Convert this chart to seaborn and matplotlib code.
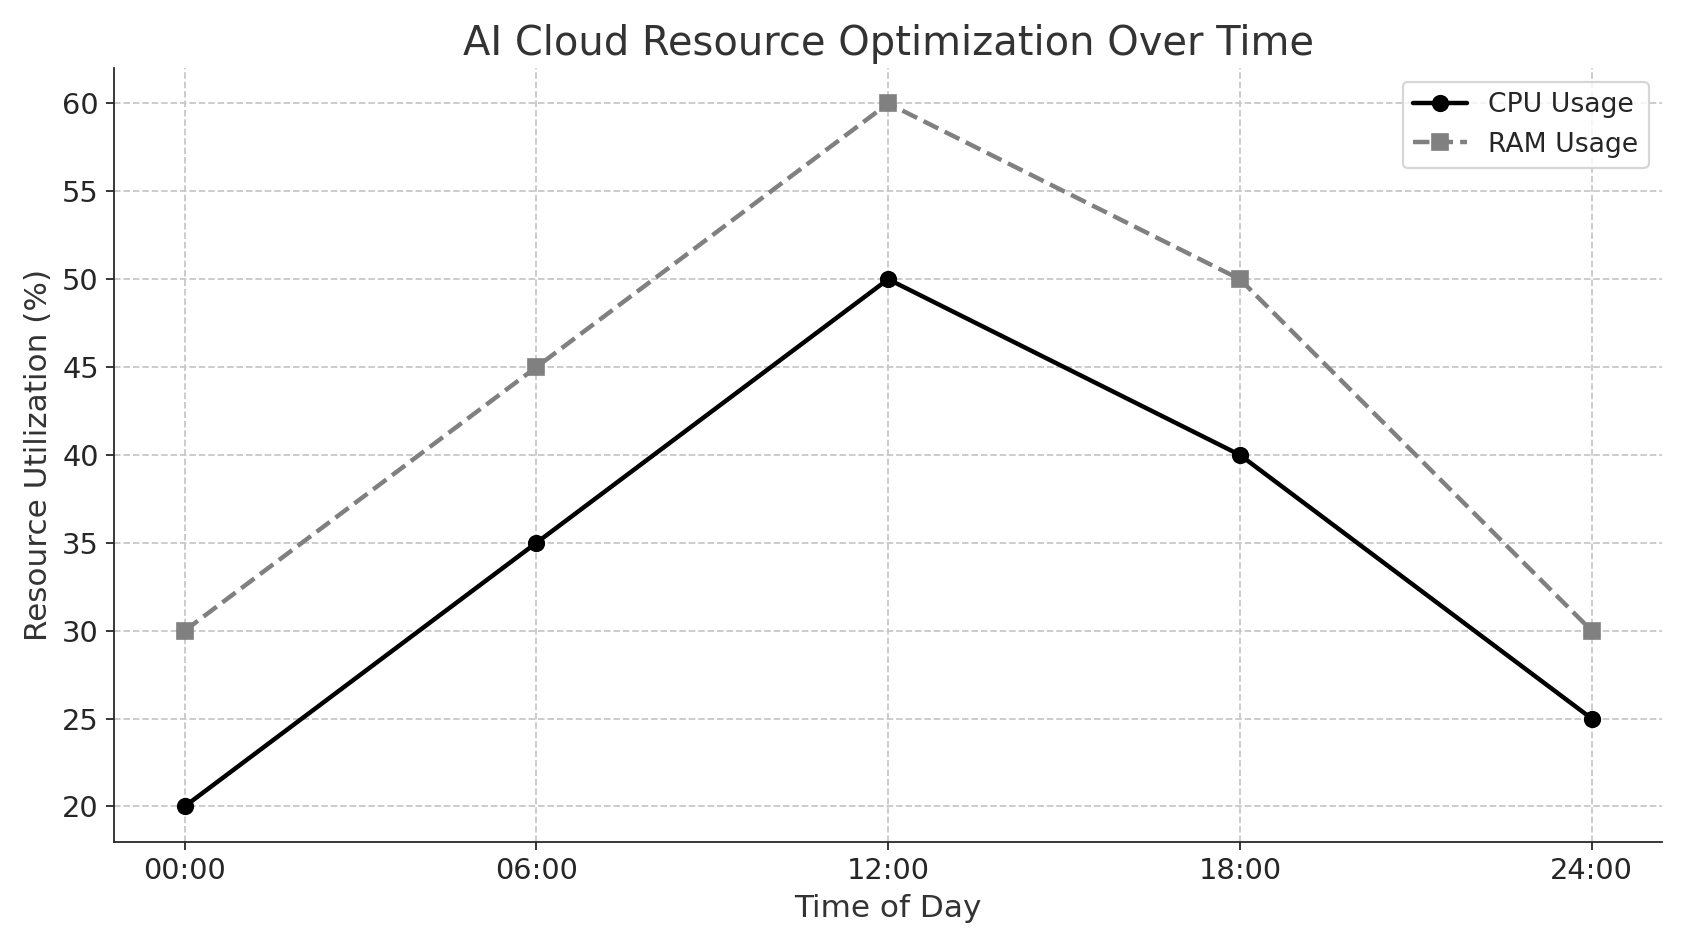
import pandas as pd
import seaborn as sns
import matplotlib.pyplot as plt

times = ["00:00", "06:00", "12:00", "18:00", "24:00"]
cpu_usage = [20, 35, 50, 40, 25]
ram_usage = [30, 45, 60, 50, 30]

df = pd.DataFrame({"time": times, "CPU Usage": cpu_usage, "RAM Usage": ram_usage})

sns.set_style("ticks")
plt.rcParams['font.family'] = ['DejaVu Sans']

fig, ax = plt.subplots(figsize=(1686 / 160, 947 / 160), dpi=160)
sns.lineplot(data=df, x="time", y="CPU Usage", ax=ax, color="black", marker="o",
             markersize=7, linewidth=2, label="CPU Usage", sort=False)
sns.lineplot(data=df, x="time", y="RAM Usage", ax=ax, color="gray", marker="s",
             markersize=7, linewidth=2, linestyle="--", label="RAM Usage", sort=False,
             markeredgecolor="gray")
ax.lines[0].set_markeredgecolor("black")

ax.set_title("AI Cloud Resource Optimization Over Time", fontsize=18, color="#333333")
ax.set_xlabel("Time of Day", fontsize=14, color="#333333")
ax.set_ylabel("Resource Utilization (%)", fontsize=14, color="#333333")
ax.tick_params(labelsize=13)
ax.grid(True, linestyle="--", color="#c8c8c8", linewidth=0.8)
ax.set_yticks(range(20, 61, 5))
ax.set_ylim(18, 62)
sns.despine(ax=ax)
ax.legend(loc="upper right", fontsize=12)

plt.tight_layout()
plt.savefig("out.png")
